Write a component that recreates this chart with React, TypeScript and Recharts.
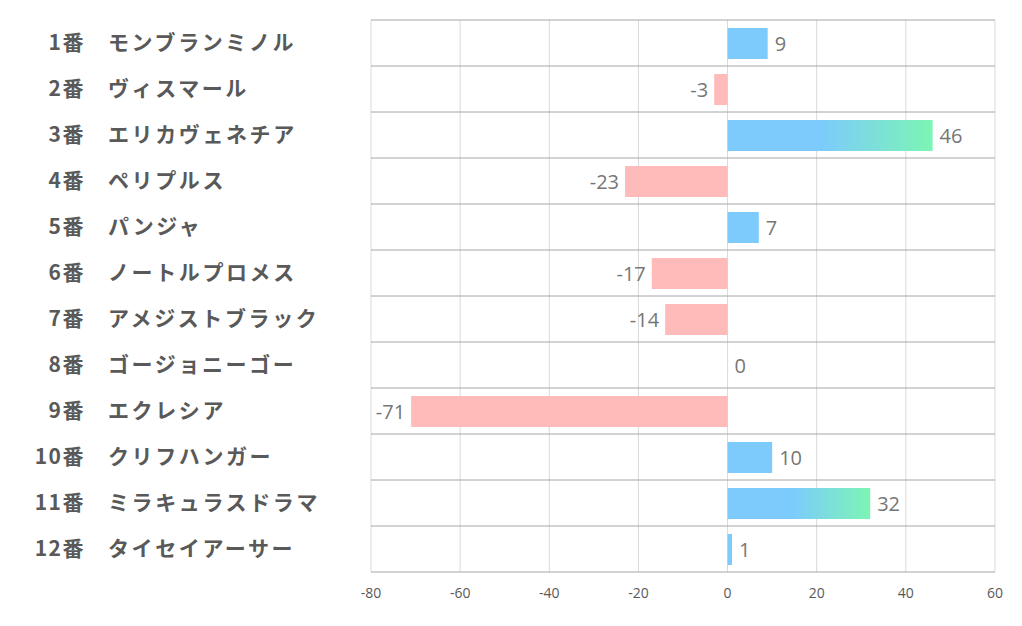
import React from 'react';
import { BarChart, Bar, XAxis, YAxis, CartesianGrid, Cell, LabelList } from 'recharts';

const numbers = ['1番', '2番', '3番', '4番', '5番', '6番', '7番', '8番', '9番', '10番', '11番', '12番'];
const horses = [
  'モンブランミノル',
  'ヴィスマール',
  'エリカヴェネチア',
  'ペリプルス',
  'パンジャ',
  'ノートルプロメス',
  'アメジストブラック',
  'ゴージョニーゴー',
  'エクレシア',
  'クリフハンガー',
  'ミラキュラスドラマ',
  'タイセイアーサー',
];
const scores = [9, -3, 46, -23, 7, -17, -14, 0, -71, 10, 32, 1];
const xTicks = [-80, -60, -40, -20, 0, 20, 40, 60];

const data = horses.map((name, i) => ({ key: i, num: numbers[i], name, score: scores[i] }));

const BLUE = '#7ccbfc';
const PINK = '#ffbaba';
const JP_FONT = "'Noto Sans CJK JP', sans-serif";

const NameTick = (props: any) => {
  const { y, payload } = props;
  const row = data[payload.value];
  return (
    <g>
      <text x={85} y={y} dy={7} textAnchor="end" fill="#595959" fontSize={21} fontWeight="bold"
        letterSpacing={1.5} fontFamily={JP_FONT}>{row.num}</text>
      <text x={108} y={y} dy={7} textAnchor="start" fill="#595959" fontSize={21} fontWeight="bold"
        letterSpacing={2.6} fontFamily={JP_FONT}>{row.name}</text>
    </g>
  );
};

const ValueLabel = (props: any) => {
  const { x, y, width, height, value } = props;
  const end = x + width;
  const neg = value < 0;
  return (
    <text
      x={neg ? Math.min(x, end) - 6 : Math.max(x, end) + 7}
      y={y + height / 2}
      dy={7}
      textAnchor={neg ? 'end' : 'start'}
      fill="#767676"
      fontSize={20}
      fontFamily="'Open Sans', sans-serif"
    >
      {value}
    </text>
  );
};

const rowLines = ({ offset }: any) =>
  Array.from({ length: data.length + 1 }, (_, i) => offset.top + (i * offset.height) / data.length);

const App: React.FC = () => {
  return (
    <div style={{ position: 'absolute', left: 0, top: 0, background: '#fff' }}>
      <BarChart
        width={1022}
        height={626}
        data={data}
        layout="vertical"
        margin={{ top: 20, right: 27, bottom: 0, left: 0 }}
      >
        <defs>
          <linearGradient id="blueGreen" x1="0" y1="0" x2="1" y2="0">
            <stop offset="45%" stopColor={BLUE} />
            <stop offset="100%" stopColor="#7cf5b4" />
          </linearGradient>
        </defs>
        <CartesianGrid horizontal={false} stroke="#d9d9d9" />
        <CartesianGrid vertical={false} stroke="#a6a6a6" horizontalCoordinatesGenerator={rowLines} />
        <XAxis
          type="number"
          domain={[-80, 60]}
          ticks={xTicks}
          axisLine={false}
          tickLine={false}
          height={54}
          tick={{ fill: '#595959', fontSize: 14, fontFamily: "'Open Sans', sans-serif" }}
          tickMargin={10}
          interval={0}
        />
        <YAxis
          type="category"
          dataKey="key"
          width={371}
          axisLine={false}
          tickLine={false}
          tick={<NameTick />}
          interval={0}
        />
        <Bar
          dataKey="score"
          barSize={31}
          minPointSize={(v: number) => (v === 0 ? 0.01 : 0)}
          isAnimationActive={false}
        >
          {data.map((d) => (
            <Cell key={d.key} fill={d.score < 0 ? PINK : d.score >= 30 ? 'url(#blueGreen)' : BLUE} />
          ))}
          <LabelList dataKey="score" content={<ValueLabel />} />
        </Bar>
      </BarChart>
    </div>
  );
};

export default App;
